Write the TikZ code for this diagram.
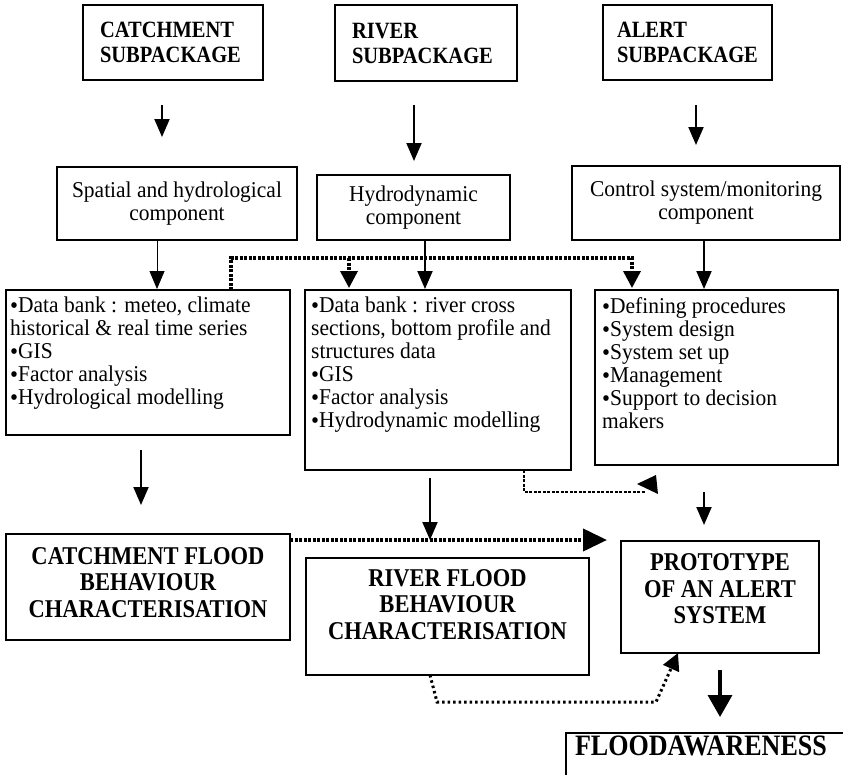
\documentclass[tikz,border=0pt]{standalone}
\usepackage{fontspec}
\setmainfont{Liberation Serif}
\newfontfamily\tallfont[FakeStretch=0.88]{Liberation Serif}
\newfontfamily\bodyfam[FakeStretch=0.95]{Liberation Serif}
\usetikzlibrary{arrows.meta}
\newcommand{\bul}{{\fontsize{24}{24}\selectfont\raisebox{-1pt}{•}}}
\newcommand{\fsub}{\tallfont\bfseries\fontsize{23.3}{25}\selectfont}
\newcommand{\fbody}{\bodyfam\fontsize{22.6}{23}\selectfont}
\newcommand{\fbig}{\tallfont\bfseries\fontsize{25.6}{26.5}\selectfont}
\newcommand{\fflood}{\tallfont\bfseries\fontsize{29.6}{30}\selectfont}
\begin{document}
\begin{tikzpicture}[x=1pt,y=-1pt,
  box/.style={draw,line width=2.3pt,inner sep=0pt,outer sep=0pt},
  listtext/.style={anchor=north west,inner sep=0pt,align=left,font=\fbody},
  arr/.style={line width=2pt,-{Triangle[length=18pt,width=15pt]}},
  arrthin/.style={line width=0.8pt,-{Triangle[length=18pt,width=15pt]}},
  arrbig/.style={line width=3.5pt,-{Triangle[length=22pt,width=24pt]}},
  dotA/.style={line width=3.5pt,dash pattern=on 3pt off 1.5pt},
  dotB/.style={line width=4pt,dash pattern=on 3pt off 1.5pt},
  dotC/.style={line width=3pt,dash pattern=on 2.5pt off 3pt},
  dotD/.style={line width=2.5pt,dash pattern=on 3pt off 1.5pt},
  headA/.style={-{Triangle[length=17pt,width=17pt]}},
  headB/.style={-{Triangle[length=24pt,width=22pt]}}]
\useasboundingbox (0,0) rectangle (843,774);
\fill[white] (0,0) rectangle (843,774);
\clip (0,0) rectangle (843,774);

% top row
\node[box,minimum width=180pt,minimum height=75pt,text width=146pt,align=left,font=\fsub] (catchsub) at (173,42.5) {CATCHMENT\\SUBPACKAGE};
\node[box,minimum width=182pt,minimum height=76pt,text width=148pt,align=left,font=\fsub] (riversub) at (426,43) {RIVER\\SUBPACKAGE};
\node[box,minimum width=169pt,minimum height=75pt,text width=141pt,align=left,font=\fsub] (alertsub) at (687.5,42.5) {ALERT\\SUBPACKAGE};

% components
\node[box,minimum width=240pt,minimum height=73pt,align=center,font=\fbody] (spatial) at (177,203.5) {Spatial and hydrological\\component};
\node[box,minimum width=193pt,minimum height=65pt,align=center,font=\fbody] (hydro) at (413.5,207.5) {Hydrodynamic\\component};
\node[box,minimum width=268pt,minimum height=74pt,align=center,font=\fbody] (control) at (706,203) {Control system/monitoring\\component};

% data boxes
\node[box,minimum width=284pt,minimum height=145pt] (datal) at (148,362.5) {};
\node[listtext] (datalt) at ([shift={(4,7)}]datal.north west)
  {\bul Data bank : meteo, climate\\historical \& real time series\\\bul GIS\\\bul Factor analysis\\\bul Hydrological modelling};
\node[box,minimum width=266pt,minimum height=180pt] (datam) at (438,380) {};
\node[listtext] (datamt) at ([shift={(6,7)}]datam.north west)
  {\bul Data bank : river cross\\sections, bottom profile and\\structures data\\\bul GIS\\\bul Factor analysis\\\bul Hydrodynamic modelling};
\node[box,minimum width=243pt,minimum height=175pt] (datar) at (716.5,377.5) {};
\node[listtext] (datart) at ([shift={(7,7)}]datar.north west)
  {\bul Defining procedures\\\bul System design\\\bul System set up\\\bul Management\\\bul Support to decision\\makers};

% results
\node[box,minimum width=284pt,minimum height=106pt,text depth=9pt,align=center,font=\fbig] (catchflood) at (148,587) {CATCHMENT FLOOD\\BEHAVIOUR\\CHARACTERISATION};
\node[box,minimum width=283pt,minimum height=117pt,text depth=24pt,align=center,font=\fbig] (riverflood) at (447.5,616.5) {RIVER FLOOD\\BEHAVIOUR\\CHARACTERISATION};
\node[box,minimum width=198pt,minimum height=112pt,text depth=16pt,align=center,font=\fbig] (proto) at (720,597) {PROTOTYPE\\OF AN ALERT\\SYSTEM};
\node[box,anchor=north west,text width=270pt,inner xsep=9pt,inner ysep=3pt,text depth=40pt,align=left,font=\fflood] (flood) at (566,733) {FLOODAWARENESS};

% solid arrows
\draw[arr,shorten <=25pt,shorten >=30pt] (162,0 |- catchsub.south) -- (162,0 |- spatial.north);
\draw[arr,shorten <=24pt,shorten >=14pt] (414,0 |- riversub.south) -- (414,0 |- hydro.north);
\draw[arr,shorten <=25pt,shorten >=21pt] (696,0 |- alertsub.south) -- (696,0 |- control.north);
\draw[arrthin,shorten >=1pt] (157,0 |- spatial.south) -- (157,0 |- datal.north);
\draw[arr,shorten >=1pt] (425,0 |- hydro.south) -- (425,0 |- datam.north);
\draw[arr,shorten >=1pt] (704,0 |- control.south) -- (704,0 |- datar.north);
\draw[arr,shorten <=15pt,shorten >=29pt] (141,0 |- datal.south) -- (141,0 |- catchflood.north);
\draw[arr,shorten <=8pt,shorten >=18pt] (430,0 |- datam.south) -- (430,0 |- riverflood.north);
\draw[arr,shorten <=27pt,shorten >=16pt] (704,0 |- datar.south) -- (704,0 |- proto.north);
\draw[arrbig,shorten <=17pt,shorten >=16pt] (720,0 |- proto.south) -- (720,0 |- flood.north);

% dotted connectors
\coordinate (dA) at (632,258);
\coordinate (dAb) at (349,258);
\draw[dotA,headA,shorten >=2pt] (231,0 |- datal.north) |- (dA) -- (632,0 |- datar.north);
\draw[dotA,headA,shorten >=2pt] (dAb) -- (349,0 |- datam.north);

\coordinate (dB) at (0,540);
\draw[dotB,headB,shorten >=14pt] (catchflood.east |- dB) -- (proto.west |- dB);

\coordinate (dD) at (645,492);
\draw[dotD] (524,0 |- datam.south) |- (dD);
\fill (637,484) -- (656,475) -- (658,494) -- cycle;

\coordinate (dC1) at (437,702);
\coordinate (dC2) at (656,702);
\draw[dotC,headA] (430,0 |- riverflood.south) -- (dC1) -- (dC2) -- (678,0 |- proto.south);
\end{tikzpicture}
\end{document}
